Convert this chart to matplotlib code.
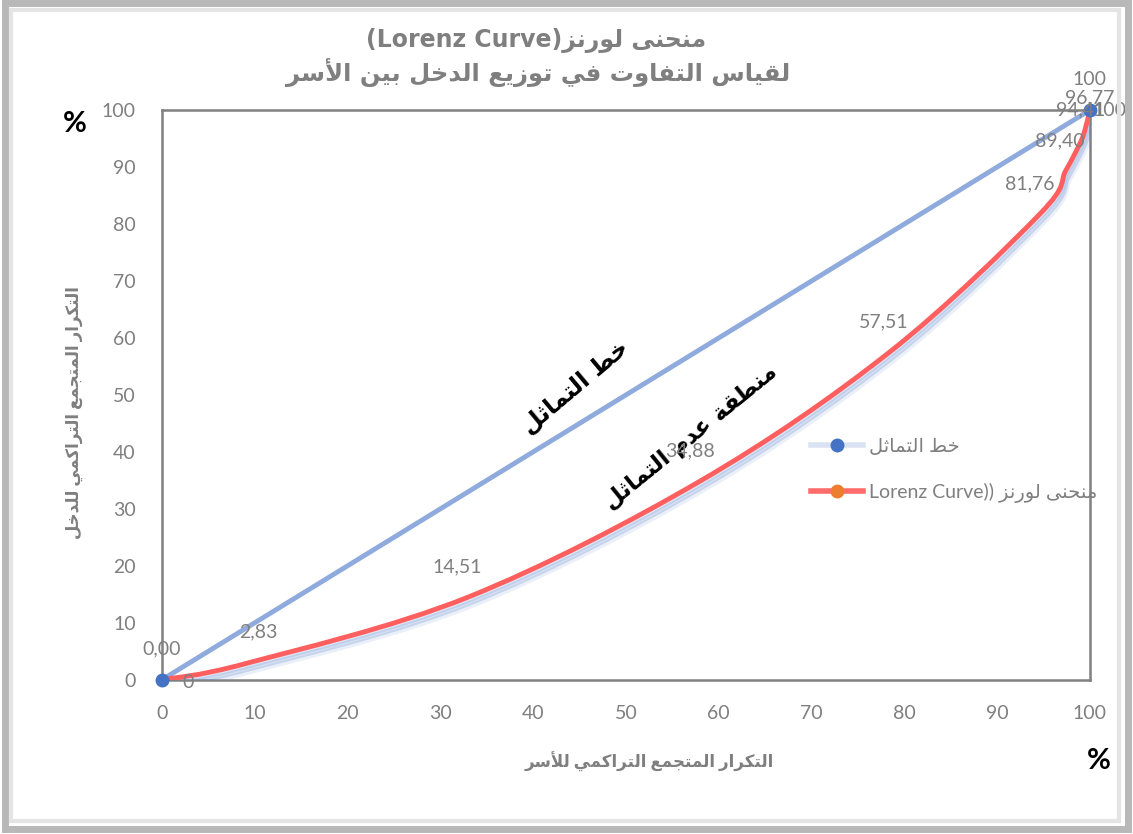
import numpy as np
import matplotlib
matplotlib.use('Agg')
import matplotlib.pyplot as plt
import matplotlib.patheffects as pe
from matplotlib.path import Path
from matplotlib.patches import PathPatch, Rectangle
from matplotlib.lines import Line2D

plt.rcParams['font.family'] = ['Lato', 'DejaVu Sans']

# ---------------- data ----------------
eq_x = [0, 100]
eq_y = [0, 100]
eq_labels = ['0,00', '100']

lor_x = [0, 9, 33, 58, 78.4, 94.6, 97.4, 99, 99.5, 100]
lor_y = [0, 2.83, 14.51, 34.88, 57.51, 81.76, 89.40, 94.41, 96.77, 100]
lor_labels = ['0', '2,83', '14,51', '34,88', '57,51', '81,76', '89,40', '94,41', '96,77', '100']

ticks = list(range(0, 101, 10))

# ---------------- arabic shaping (no bidi lib available) ----------------
dual = {'ب': 0xFE8F, 'ت': 0xFE95, 'ث': 0xFE99, 'ج': 0xFE9D, 'ح': 0xFEA1, 'خ': 0xFEA5,
        'س': 0xFEB1, 'ش': 0xFEB5, 'ص': 0xFEB9, 'ض': 0xFEBD, 'ط': 0xFEC1, 'ظ': 0xFEC5,
        'ع': 0xFEC9, 'غ': 0xFECD, 'ف': 0xFED1, 'ق': 0xFED5, 'ك': 0xFED9, 'ل': 0xFEDD,
        'م': 0xFEE1, 'ن': 0xFEE5, 'ه': 0xFEE9, 'ي': 0xFEF1}
right = {'ا': 0xFE8D, 'أ': 0xFE83, 'إ': 0xFE87, 'آ': 0xFE81, 'ة': 0xFE93, 'د': 0xFEA9,
         'ذ': 0xFEAB, 'ر': 0xFEAD, 'ز': 0xFEAF, 'و': 0xFEED, 'ى': 0xFEEF}
lamalef = {'ا': 0xFEFB, 'أ': 0xFEF7, 'إ': 0xFEF9, 'آ': 0xFEF5}
letters = set(dual) | set(right)


def shape(s):
    out = []
    i = 0
    n = len(s)
    while i < n:
        c = s[i]
        prev = i > 0 and s[i - 1] in dual and c in letters
        if c == 'ل' and i + 1 < n and s[i + 1] in lamalef:
            out.append(chr(lamalef[s[i + 1]] + (1 if prev else 0)))
            i += 2
            continue
        nxt = c in dual and i + 1 < n and s[i + 1] in letters
        if c in dual:
            f = 3 if (prev and nxt) else 2 if nxt else 1 if prev else 0
            out.append(chr(dual[c] + f))
        elif c in right:
            out.append(chr(right[c] + (1 if prev else 0)))
        else:
            out.append(c)
        i += 1
    return out


def ar(s):
    return ''.join(reversed(shape(s)))


grey = '#7F7F7F'

fig = plt.figure(figsize=(11.33, 8.34), dpi=100)

# outer frame (bevel look)
fig.patches.append(Rectangle((0.004, 0.006), 0.992, 0.99, transform=fig.transFigure,
                             fill=False, edgecolor='#B8B8B8', lw=5, zorder=0))
fig.patches.append(Rectangle((0.010, 0.016), 0.978, 0.972, transform=fig.transFigure,
                             fill=False, edgecolor='#E4E4E4', lw=3, zorder=0))

ax = fig.add_axes([0.143, 0.185, 0.819, 0.683])
ax.set_xlim(0, 100)
ax.set_ylim(0, 100)
ax.set_xticks(ticks)
ax.set_yticks(ticks)
ax.tick_params(length=0, labelsize=14, labelcolor=grey)
ax.tick_params(axis='y', pad=19)
ax.tick_params(axis='x', pad=18)
for sp in ax.spines.values():
    sp.set_color('#808080')
    sp.set_linewidth(1.8)

# equality line
ax.plot(eq_x, eq_y, color='#8FAADC', lw=3.5, zorder=3)
ax.plot(eq_x, eq_y, 'o', color='#4472C4', ms=9, zorder=5, clip_on=False)

# lorenz curve as smooth bezier through the points (like excel smoothing)
px = np.array(lor_x, float)
py = np.array(lor_y, float)
verts = [(px[0], py[0])]
codes = [Path.MOVETO]
for k in range(len(px) - 1):
    p0 = np.array([px[max(k - 1, 0)], py[max(k - 1, 0)]])
    p1 = np.array([px[k], py[k]])
    p2 = np.array([px[k + 1], py[k + 1]])
    p3 = np.array([px[min(k + 2, len(px) - 1)], py[min(k + 2, len(px) - 1)]])
    c1 = p1 + (p2 - p0) / 6.0
    c2 = p2 - (p3 - p1) / 6.0
    verts += [tuple(c1), tuple(c2), tuple(p2)]
    codes += [Path.CURVE4, Path.CURVE4, Path.CURVE4]
curve = PathPatch(Path(verts, codes), fill=False, edgecolor='#FF5F5F', lw=3.5, zorder=4,
                  path_effects=[pe.SimpleLineShadow(offset=(3, -6), shadow_color='#8FAADC', alpha=0.18),
                                pe.SimpleLineShadow(offset=(2, -4), shadow_color='#4472C4', alpha=0.22),
                                pe.SimpleLineShadow(offset=(1, -2), shadow_color='#8FAADC', alpha=0.3),
                                pe.Normal()])
ax.add_patch(curve)

# data labels
ax.annotate(eq_labels[0], (eq_x[0], eq_y[0]), xytext=(0, 22), textcoords='offset points',
            ha='center', va='center', fontsize=14, color=grey)
ax.annotate(eq_labels[1], (eq_x[1], eq_y[1]), xytext=(0, 22), textcoords='offset points',
            ha='center', va='center', fontsize=14, color=grey, annotation_clip=False)
offs = [(19, -2), (9, 23), (-8, 22), (-7, 22), (-4, 22), (-7, 22), (-4, 21.5), (0, 23), (3, 22), (14, 0)]
for xv, yv, lab, o in zip(lor_x, lor_y, lor_labels, offs):
    ax.annotate(lab, (xv, yv), xytext=o, textcoords='offset points', ha='center', va='center',
                fontsize=14, color=grey, annotation_clip=False, zorder=6)

# in-plot text
ax.text(44.5, 51.4, ar('خط التماثل'), rotation=40, ha='center', va='center',
        fontsize=17, fontweight='bold', color='black', family='DejaVu Sans')
ax.text(57.0, 42.6, ar('منطقة عدم التماثل'), rotation=39, ha='center', va='center',
        fontsize=16.5, fontweight='bold', color='black', family='DejaVu Sans')

# legend
handles = [Line2D([0], [0], color='#DAE3F3', lw=4, marker='o', ms=9, mfc='#4472C4', mec='#4472C4'),
           Line2D([0], [0], color='#FF6B6B', lw=4, marker='o', ms=9, mfc='#ED7D31', mec='#ED7D31')]
ax.legend(handles, [ar('خط التماثل'), 'Lorenz Curve)) ' + ar('منحنى لورنز')],
          loc='upper left', bbox_to_anchor=(0.68, 0.455), frameon=False, fontsize=14,
          labelcolor=grey, handlelength=2.7, handletextpad=0.3, labelspacing=1.45)

# titles / axis labels
fig.text(0.473, 0.951, '(Lorenz Curve)' + ar('منحنى لورنز'), ha='center', va='center',
         fontsize=17, fontweight='bold', color=grey, family='DejaVu Sans')
fig.text(0.475, 0.913, ar('لقياس التفاوت في توزيع الدخل بين الأسر'), ha='center', va='center',
         fontsize=17.5, fontweight='bold', color=grey, family='DejaVu Sans')
fig.text(0.066, 0.505, ar('التكرار المتجمع التراكمي للدخل'), rotation=90, ha='center', va='center',
         fontsize=12, fontweight='bold', color=grey)
fig.text(0.573, 0.087, ar('التكرار المتجمع التراكمي للأسر'), ha='center', va='center',
         fontsize=12, fontweight='bold', color=grey)
fig.text(0.066, 0.851, '%', ha='center', va='center', fontsize=21, fontweight='bold', color='black')
fig.text(0.970, 0.087, '%', ha='center', va='center', fontsize=21, fontweight='bold', color='black')

fig.savefig('out.png', dpi=100)
